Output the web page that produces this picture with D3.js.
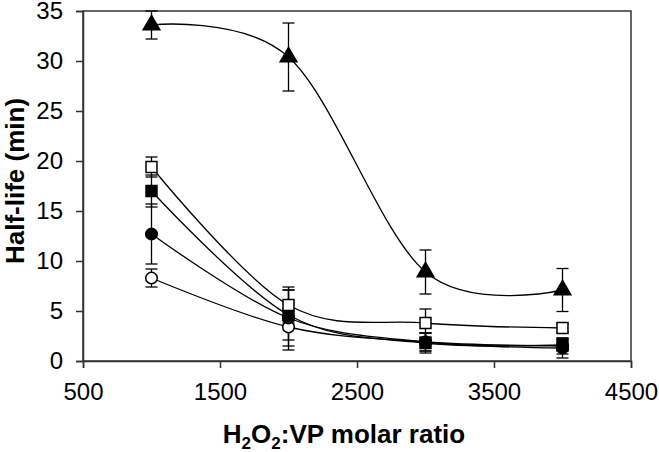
<!DOCTYPE html>
<html>
<head>
<meta charset="utf-8">
<script src="https://d3js.org/d3.v7.min.js"></script>
<style>
  body { margin: 0; background: #fff; }
  text { font-family: "Liberation Sans", Arial, sans-serif; fill: #000; }
</style>
</head>
<body>
<svg id="chart" width="659" height="452"></svg>
<script>
// molar ratio on the x axis
const ratios = [1000, 2000, 3000, 4000]

// half-life (min) and error bar per series
const triFilled = [33.6, 30.4, 8.9, 7.1]
const triFilledErr = [1.4, 3.4, 2.2, 2.15]
const sqOpen = [19.4, 5.6, 3.8, 3.3]
const sqOpenErr = [1.0, 1.8, 1.4, 0.4]
const sqFilled = [17.0, 4.6, 1.8, 1.6]
const sqFilledErr = [1.6, 2.5, 1.0, 0.6]
const circFilled = [12.7, 4.3, 1.9, 1.3]
const circFilledErr = [3.0, 2.8, 0.9, 1.0]
const circOpen = [8.3, 3.4, 1.9, 1.5]
const circOpenErr = [0.9, 2.3, 0.9, 0.8]

const xTicks = [500, 1500, 2500, 3500, 4500]
const yTicks = [0, 5, 10, 15, 20, 25, 30, 35]

const series = [
  { vals: circOpen, err: circOpenErr, shape: "circle", fill: "#fff" },
  { vals: circFilled, err: circFilledErr, shape: "circle", fill: "#000" },
  { vals: sqFilled, err: sqFilledErr, shape: "square", fill: "#000" },
  { vals: sqOpen, err: sqOpenErr, shape: "square", fill: "#fff" },
  { vals: triFilled, err: triFilledErr, shape: "triangle", fill: "#000" }
]

var svg = d3.select("#chart")
var mLeft = 83, mRight = 631, mTop = 11, mBottom = 361

var x = d3.scaleLinear().domain([500, 4500]).range([mLeft, mRight])
var y = d3.scaleLinear().domain([0, 35]).range([mBottom, mTop])

// frame
svg.append("rect")
    .attr("x", mLeft).attr("y", mTop)
    .attr("width", mRight - mLeft).attr("height", mBottom - mTop)
    .attr("fill", "none").attr("stroke", "#333").attr("stroke-width", 1.5)

var yAxis = svg.append("g")
    .attr("transform", "translate(" + mLeft + ",0)")
    .call(d3.axisLeft(y).tickValues(yTicks).tickFormat(d3.format("d")).tickSize(7).tickPadding(13))
var xAxis = svg.append("g")
    .attr("transform", "translate(0," + mBottom + ")")
    .call(d3.axisBottom(x).tickValues(xTicks).tickFormat(d3.format("d")).tickSize(7).tickPadding(15))

;[yAxis, xAxis].forEach(function(g) {
  g.select(".domain").attr("stroke", "#333").attr("stroke-width", 1.5)
  g.selectAll(".tick line").attr("stroke", "#333").attr("stroke-width", 1.5)
  g.selectAll(".tick text").attr("font-size", 24)
      .attr("font-family", "Liberation Sans, Arial, sans-serif")
})

// axis titles
svg.append("text")
    .attr("transform", "translate(24,181) rotate(-90)")
    .attr("text-anchor", "middle")
    .attr("font-size", 26).attr("font-weight", "bold")
    .text("Half-life (min)")

var xt = svg.append("text")
    .attr("x", 344).attr("y", 443)
    .attr("text-anchor", "middle")
    .attr("font-size", 26).attr("font-weight", "bold")
xt.append("tspan").text("H")
xt.append("tspan").attr("font-size", 17).attr("dy", 6).text("2")
xt.append("tspan").attr("dy", -6).text("O")
xt.append("tspan").attr("font-size", 17).attr("dy", 6).text("2")
xt.append("tspan").attr("dy", -6).text(":VP molar ratio")

var line = d3.line()
    .x(function(d) { return x(d.r) })
    .y(function(d) { return y(d.v) })
    .curve(d3.curveCatmullRom.alpha(0))

var plot = svg.append("g")

// lines first, then error bars, then markers
series.forEach(function(s) {
  var pts = ratios.map(function(r, i) { return { r: r, v: s.vals[i], e: s.err[i] } })
  plot.append("path")
      .datum(pts)
      .attr("d", line)
      .attr("fill", "none").attr("stroke", "#000").attr("stroke-width", 1.3)
})

series.forEach(function(s) {
  var pts = ratios.map(function(r, i) { return { r: r, v: s.vals[i], e: s.err[i] } })
  var eb = plot.append("g").selectAll("g").data(pts).enter().append("g")
  eb.append("line")
      .attr("x1", function(d) { return x(d.r) }).attr("x2", function(d) { return x(d.r) })
      .attr("y1", function(d) { return y(d.v + d.e) }).attr("y2", function(d) { return y(d.v - d.e) })
  eb.append("line")
      .attr("x1", function(d) { return x(d.r) - 6 }).attr("x2", function(d) { return x(d.r) + 6 })
      .attr("y1", function(d) { return y(d.v + d.e) }).attr("y2", function(d) { return y(d.v + d.e) })
  eb.append("line")
      .attr("x1", function(d) { return x(d.r) - 6 }).attr("x2", function(d) { return x(d.r) + 6 })
      .attr("y1", function(d) { return y(d.v - d.e) }).attr("y2", function(d) { return y(d.v - d.e) })
  eb.selectAll("line").attr("stroke", "#000").attr("stroke-width", 1.3)
})

var sym = {
  circle: d3.symbol().type(d3.symbolCircle).size(105),
  square: d3.symbol().type(d3.symbolSquare).size(120),
  triangle: d3.symbol().type(d3.symbolTriangle).size(120)
}

series.forEach(function(s) {
  var pts = ratios.map(function(r, i) { return { r: r, v: s.vals[i] } })
  plot.append("g").selectAll("path").data(pts).enter().append("path")
      .attr("d", sym[s.shape])
      .attr("transform", function(d) { return "translate(" + x(d.r) + "," + y(d.v) + ")" })
      .attr("fill", s.fill).attr("stroke", "#000").attr("stroke-width", 1.5)
})
</script>
</body>
</html>
